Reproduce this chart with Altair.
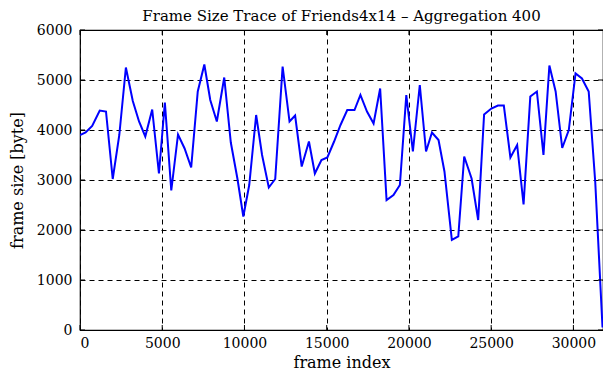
import altair as alt
import pandas as pd

frames = [0, 340, 740, 1200, 1580, 1990, 2390, 2790, 3210, 3590,
          3970, 4390, 4800, 5160, 5550, 5960, 6360, 6760, 7160, 7560,
          7920, 8320, 8770, 9170, 9570, 9930, 10290, 10710, 11070, 11480,
          11870, 12320, 12740, 13080, 13480, 13920, 14280, 14680, 15040, 15450,
          15840, 16250, 16690, 17050, 17450, 17850, 18250, 18640, 19060, 19450,
          19840, 20240, 20660, 21040, 21400, 21800, 22160, 22610, 23000, 23360,
          23810, 24210, 24570, 25010, 25410, 25770, 26170, 26580, 26970, 27380,
          27780, 28180, 28540, 28920, 29320, 29720, 30130, 30520, 30930, 31330,
          31770]
sizes = [3900, 3950, 4080, 4390, 4370, 3020, 3900, 5250, 4580, 4170,
         3870, 4410, 3130, 4550, 2790, 3910, 3630, 3250, 4770, 5310,
         4600, 4170, 5050, 3750, 3030, 2270, 2900, 4300, 3500, 2850,
         3020, 5270, 4170, 4290, 3270, 3770, 3130, 3400, 3450, 3770,
         4100, 4400, 4400, 4700, 4370, 4130, 4830, 2600, 2700, 2900,
         4700, 3570, 4900, 3570, 3950, 3800, 3170, 1800, 1870, 3470,
         3030, 2200, 4310, 4430, 4490, 4490, 3450, 3700, 2510, 4670,
         4770, 3500, 5290, 4770, 3640, 4000, 5130, 5030, 4770, 2950,
         50]
x_ticks = [0, 5000, 10000, 15000, 20000, 25000, 30000]
y_ticks = [0, 1000, 2000, 3000, 4000, 5000, 6000]

df = pd.DataFrame({"frame": frames, "size": sizes})
xt = pd.DataFrame({"frame": x_ticks})
yt = pd.DataFrame({"size": y_ticks})

W, H = 523, 300
TICK = 5
FONT = "DejaVu Serif"
x_scale = alt.Scale(domain=[0, 31800], nice=False, zero=False)
y_scale = alt.Scale(domain=[0, 6000], nice=False)

common_axis = dict(
    grid=True, gridColor="black", gridDash=[5, 4], gridOpacity=1, gridWidth=1,
    domain=False, ticks=False, format="d",
    labelFont=FONT, labelFontSize=14, labelColor="black",
    titleFont=FONT, titleFontSize=16, titleColor="black", titleFontWeight="normal",
)
x_axis = alt.Axis(title="frame index", values=x_ticks, labelPadding=6,
                  titlePadding=4, **common_axis)
y_axis = alt.Axis(title="frame size [byte]", values=y_ticks, labelPadding=8,
                  titlePadding=11, **common_axis)

X = alt.X("frame:Q", scale=x_scale, axis=x_axis)
Y = alt.Y("size:Q", scale=y_scale, axis=y_axis)

line = alt.Chart(df).mark_line(color="#0000ff", strokeWidth=2, clip=True).encode(x=X, y=Y)

tick_style = dict(color="black", strokeWidth=1)
left_ticks = alt.Chart(yt).mark_rule(**tick_style).encode(
    y=Y, x=alt.value(0), x2=alt.value(TICK))
right_ticks = alt.Chart(yt).mark_rule(**tick_style).encode(
    y=Y, x=alt.value(W), x2=alt.value(W - TICK))
bottom_ticks = alt.Chart(xt).mark_rule(**tick_style).encode(
    x=X, y=alt.value(H), y2=alt.value(H - TICK))
top_ticks = alt.Chart(xt).mark_rule(**tick_style).encode(
    x=X, y=alt.value(0), y2=alt.value(TICK))

chart = alt.layer(line, left_ticks, right_ticks, bottom_ticks, top_ticks).properties(
    width=W, height=H,
    title=alt.TitleParams(
        "Frame Size Trace of Friends4x14 \u2013 Aggregation 400",
        font=FONT, fontSize=15, fontWeight="normal", color="black",
        anchor="middle", offset=0, dy=1,
    ),
    autosize="none",
    padding={"left": 72, "top": 22, "right": 0, "bottom": 42},
).configure_view(stroke="black", strokeWidth=1.2)

chart.save("out.html", embed_options={"renderer": "svg", "actions": False})
